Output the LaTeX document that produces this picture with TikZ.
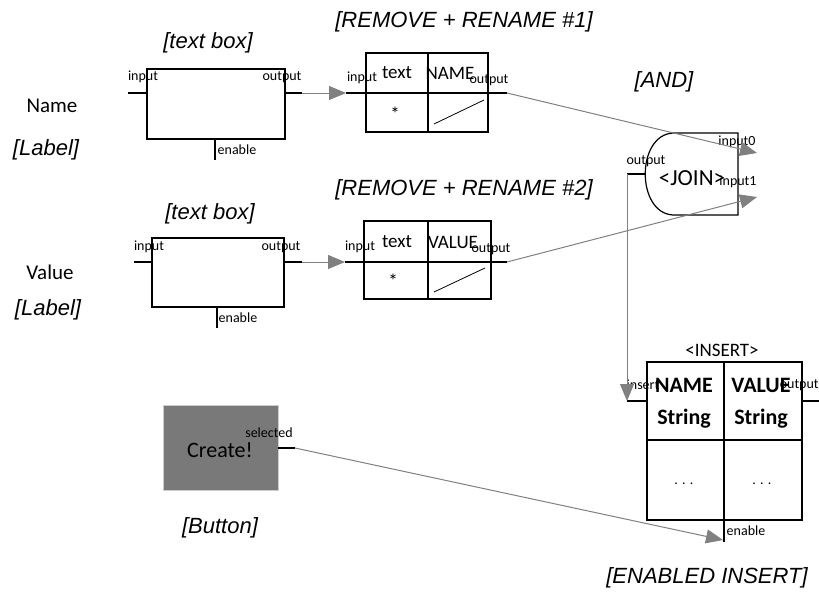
\documentclass[tikz,border=0pt]{standalone}
\usepackage{fontspec}
\setmainfont{Liberation Sans}
\newfontfamily\handfont{Carlito}
\usetikzlibrary{arrows.meta}

\tikzset{
  caption/.style = {font=\itshape\fontsize{11}{13}\selectfont, inner sep=0pt},
  port/.style = {font=\handfont\fontsize{7}{8}\selectfont, inner sep=0pt},
  cell/.style = {font=\handfont\fontsize{9.5}{10}\selectfont, inner sep=0pt},
  head/.style = {font=\handfont\bfseries\fontsize{11}{12}\selectfont, inner sep=0pt},
  box/.style = {line width=0.6pt},
  wire/.style = {color=gray, line width=0.5pt, -{Triangle[length=8.5pt, width=7pt]}},
}

\begin{document}
\begin{tikzpicture}[x=0.5pt, y=-0.5pt]
\useasboundingbox (0,0) rectangle (819,594);

% labels on the left
\node (namelbl) [font=\handfont\fontsize{10.5}{11}\selectfont, inner sep=0pt] at (52,106) {Name};
\node (namecap) [caption] at (46,150) {[Label]};
\node (valuelbl) [font=\handfont\fontsize{10.5}{11}\selectfont, inner sep=0pt] at (50,272) {Value};
\node (valuecap) [caption] at (48,310) {[Label]};

% text box #1
\node (tbAcap) [caption] at (208,43) {[text box]};
\draw [box] (147,69) rectangle (285,139);
\coordinate (tbAin) at (128,93);
\coordinate (tbAout) at (302,93);
\draw [box] (tbAin) -- (147,93);
\draw [box] (285,93) -- (tbAout);
\draw [box] (215,139) -- (215,160);
\node (tbAinlbl) [port] at (143,77) {input};
\node (tbAoutlbl) [port] at (282,77) {output};
\node (tbAenlbl) [port] at (237,150) {enable};

% text box #2
\node (tbBcap) [caption] at (210,214) {[text box]};
\draw [box] (152,238) rectangle (284,307);
\coordinate (tbBin) at (134,262);
\coordinate (tbBout) at (302,262);
\draw [box] (tbBin) -- (152,262);
\draw [box] (284,262) -- (tbBout);
\draw [box] (217,307) -- (217,328);
\node (tbBinlbl) [port] at (149,247) {input};
\node (tbBoutlbl) [port] at (281,247) {output};
\node (tbBenlbl) [port] at (238,318) {enable};

% remove + rename #1
\node (rrAcap) [caption] at (464,22) {[REMOVE + RENAME \#1]};
\draw [box] (366,53) rectangle (488,132);
\draw [box] (428,53) -- (428,132);
\coordinate (rrAin) at (346,93);
\coordinate (rrAout) at (507,93);
\draw [box] (rrAin) -- (rrAout);
\node (rrAinlbl) [port] at (362,78) {input};
\node (rrAtext) [cell] at (397,73) {text};
\node (rrAname) [cell] at (450,73) {NAME};
\node (rrAoutlbl) [port] at (489,80) {output};
\node (rrAstar) [cell] at (395,114) {*};
\draw [thin] (434,124) -- (484,100);

% remove + rename #2
\node (rrBcap) [caption] at (464,190) {[REMOVE + RENAME \#2]};
\draw [box] (364,221) rectangle (491,299);
\draw [box] (428,221) -- (428,299);
\coordinate (rrBin) at (345,262);
\coordinate (rrBout) at (507,262);
\draw [box] (rrBin) -- (rrBout);
\node (rrBinlbl) [port] at (360,247) {input};
\node (rrBtext) [cell] at (397,242) {text};
\node (rrBvalue) [cell] at (453,242) {VALUE};
\node (rrBoutlbl) [port] at (491,249) {output};
\node (rrBstar) [cell] at (393,281) {*};
\draw [thin] (434,292) -- (485,268);

% join
\node (joincap) [caption] at (664,82) {[AND]};
\draw [box] (738,133) -- (673,133) .. controls (636,135) and (636,213) .. (673,215)
  -- (738,215) -- cycle;
\coordinate (joinin0) at (757,153);
\coordinate (joinin1) at (757,197);
\coordinate (joinout) at (627,174);
\draw [box] (joinout) -- (645,174);
\node (joinlbl) [font=\handfont\fontsize{11.5}{12}\selectfont, inner sep=0pt] at (692,178) {<JOIN>};
\node (join0lbl) [port] at (737,142) {input0};
\node (join1lbl) [port] at (738,182) {input1};
\node (joinoutlbl) [port] at (646,161) {output};

% insert
\node (inscap) [caption] at (707,578) {[ENABLED INSERT]};
\node (inslbl) [cell] at (722,350) {<INSERT>};
\coordinate (insin) at (627,401);
\coordinate (insen) at (723,540);
\draw [box] (insin) -- (647,401);
\draw [box] (802,401) -- (819,401);
\draw [box] (724,520) -- (724,542);
\node (insinlbl) [port] at (643,385) {insert};
\node (insoutlbl) [port, anchor=east] at (819,385) {output};
\node (insenlbl) [port] at (746,531) {enable};
\draw [box] (647,362) rectangle (802,520);
\draw [box] (724,362) -- (724,520);
\draw [box] (647,440) -- (802,440);
\node (insname) [head] at (684,385) {NAME};
\node (insnamet) [head] at (684,419) {String};
\node (insvalue) [head] at (761,385) {VALUE};
\node (insvaluet) [head] at (761,419) {String};
\node (insdotsA) [port] at (684,484) {. . .};
\node (insdotsB) [port] at (762,484) {. . .};

% button
\node (btncap) [caption] at (220,528) {[Button]};
\draw [gray!40, fill=gray!95!black] (163,405) rectangle (278,490);
\node (btnlbl) [font=\handfont\fontsize{11}{12}\selectfont, inner sep=0pt] at (220,450) {Create!};
\node (btnsel) [port] at (269,433) {selected};
\coordinate (btnout) at (295,448);
\draw [box] (278,448) -- (btnout);

% wires
\draw [wire] (tbAout) -- (rrAin);
\draw [wire] (tbBout) -- (rrBin);
\draw [wire] (rrAout) -- (joinin0);
\draw [wire] (rrBout) -- (joinin1);
\draw [wire] (joinout) -- (insin);
\draw [wire] (btnout) -- (insen);
\end{tikzpicture}
\end{document}
